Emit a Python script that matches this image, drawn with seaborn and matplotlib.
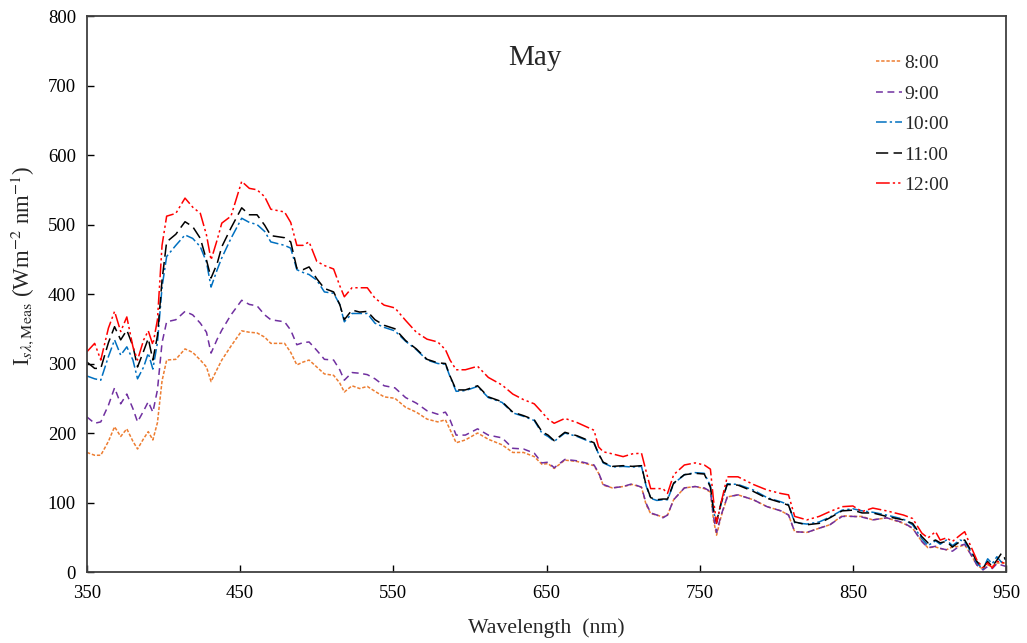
import matplotlib
matplotlib.use("Agg")
from matplotlib import pyplot as plt
import pandas as pd
import seaborn as sns

# wavelength grid (nm)
wavelength = [350, 355, 359, 364, 368, 372, 376, 380, 383, 387,
              390, 393, 396, 399, 402, 408, 414, 419, 424, 428,
              431, 435, 438, 444, 451, 456, 461, 466, 470, 479,
              483, 487, 491, 495, 500, 505, 511, 515, 518, 523,
              528, 533, 538, 544, 551, 558, 565, 572, 579, 584,
              587, 591, 597, 605, 612, 621, 628, 635, 642, 647,
              651, 655, 662, 670, 681, 684, 687, 693, 700, 706,
              712, 715, 718, 722, 726, 729, 733, 740, 747, 753,
              757, 759, 761, 764, 768, 775, 785, 794, 803, 808,
              812, 820, 828, 835, 843, 850, 856, 863, 872, 883,
              889, 895, 899, 904, 907, 911, 915, 920, 923, 926,
              931, 935, 938, 941, 944, 947, 950]

h8 = [172, 168, 168, 188, 209, 195, 206, 188, 177, 192,
      202, 190, 215, 275, 305, 306, 321, 316, 305, 295,
      274, 292, 305, 325, 347, 345, 344, 338, 329, 329,
      316, 298, 302, 305, 295, 285, 283, 272, 259, 268,
      264, 267, 260, 252, 250, 237, 230, 220, 216, 219,
      205, 186, 190, 200, 191, 183, 172, 172, 166, 155,
      156, 149, 161, 159, 153, 142, 125, 121, 123, 126,
      122, 97, 84, 82, 79, 82, 104, 121, 123, 120,
      115, 75, 53, 80, 108, 111, 104, 94, 88, 82,
      58, 57, 63, 68, 81, 80, 80, 75, 78, 70,
      63, 44, 35, 36, 34, 32, 36, 37, 39, 29,
      10, 4, 10, 8, 13, 13, 13]

h9 = [223, 214, 216, 240, 265, 242, 256, 235, 216, 232,
      245, 230, 262, 330, 360, 363, 375, 370, 358, 345,
      315, 335, 348, 370, 391, 385, 383, 370, 363, 360,
      348, 327, 330, 331, 319, 306, 305, 291, 276, 287,
      286, 284, 278, 268, 265, 251, 243, 232, 227, 230,
      219, 197, 197, 206, 197, 193, 178, 177, 171, 157,
      158, 150, 162, 160, 154, 143, 126, 121, 123, 127,
      122, 99, 85, 82, 78, 82, 104, 121, 123, 121,
      116, 80, 57, 82, 108, 111, 104, 94, 88, 82,
      58, 57, 63, 68, 80, 80, 79, 75, 78, 71,
      63, 44, 35, 37, 34, 32, 30, 38, 40, 29,
      10, 3, 8, 5, 12, 10, 8]

h10 = [282, 278, 276, 310, 334, 312, 324, 305, 278, 295,
       315, 292, 330, 410, 454, 470, 485, 480, 468, 446,
       410, 435, 452, 480, 509, 503, 500, 490, 475, 470,
       466, 435, 431, 428, 420, 403, 401, 385, 360, 372,
       372, 372, 358, 352, 347, 332, 320, 305, 300, 299,
       281, 260, 261, 267, 251, 244, 229, 224, 218, 200,
       195, 188, 200, 195, 185, 170, 157, 151, 152, 151,
       152, 124, 106, 103, 104, 104, 127, 140, 143, 142,
       124, 88, 70, 98, 127, 126, 118, 107, 101, 97,
       71, 69, 72, 79, 89, 91, 88, 86, 82, 76,
       68, 48, 38, 45, 40, 46, 38, 46, 44, 33,
       13, 4, 19, 12, 22, 14, 20]

h11 = [302, 293, 293, 330, 353, 334, 348, 325, 295, 318,
       336, 305, 340, 420, 475, 486, 504, 497, 480, 449,
       423, 444, 468, 495, 524, 514, 514, 499, 484, 481,
       475, 437, 435, 439, 422, 408, 403, 385, 363, 377,
       374, 375, 363, 355, 350, 333, 321, 306, 301, 300,
       282, 262, 262, 268, 252, 245, 230, 225, 219, 202,
       197, 189, 201, 196, 186, 170, 158, 152, 153, 152,
       153, 125, 107, 104, 105, 105, 128, 140, 142, 141,
       122, 90, 72, 100, 126, 125, 116, 106, 100, 96,
       72, 68, 70, 78, 88, 89, 85, 85, 80, 75,
       70, 51, 42, 46, 42, 44, 36, 44, 46, 35,
       15, 6, 15, 8, 17, 27, 17]

h12 = [317, 329, 305, 351, 375, 346, 367, 324, 305, 334,
       347, 327, 363, 470, 512, 516, 538, 525, 516, 485,
       449, 478, 502, 512, 562, 552, 550, 540, 522, 518,
       503, 470, 470, 475, 447, 441, 436, 412, 396, 409,
       409, 409, 394, 384, 380, 362, 345, 335, 331, 320,
       305, 291, 291, 296, 280, 269, 256, 248, 242, 230,
       220, 214, 221, 215, 204, 180, 173, 170, 166, 170,
       171, 145, 120, 120, 120, 113, 140, 154, 157, 154,
       148, 104, 70, 100, 137, 137, 126, 118, 113, 111,
       80, 75, 80, 87, 94, 95, 87, 92, 88, 82,
       77, 56, 49, 58, 46, 49, 44, 53, 58, 42,
       17, 6, 13, 6, 15, 15, 10]

times = ["8:00", "9:00", "10:00", "11:00", "12:00"]
series = [h8, h9, h10, h11, h12]

frames = []
for t, vals in zip(times, series):
    frames.append(pd.DataFrame({"wl": wavelength, "val": vals, "time": t}))
df = pd.concat(frames, ignore_index=True)

colors = {"8:00": "#ED7D31", "9:00": "#7030A0", "10:00": "#0070C0",
          "11:00": "#000000", "12:00": "#FF0000"}
dashes = {"8:00": (2.2, 1.2), "9:00": (4.5, 3), "10:00": (7, 2, 1.5, 2),
          "11:00": (8, 3.5), "12:00": (9, 2, 1.5, 2, 1.5, 2)}

sns.set_style("white")
plt.rcParams["font.family"] = ["Liberation Serif", "DejaVu Serif"]
plt.rcParams["mathtext.fontset"] = "stix"

fig = plt.figure(figsize=(10.27, 6.43), dpi=100)
ax = fig.add_axes([0.0847, 0.1104, 0.8949, 0.8647])
sns.lineplot(data=df, x="wl", y="val", hue="time", style="time",
             palette=colors, dashes=dashes, linewidth=1.1, ax=ax)

ax.set_xlim(350, 950)
ax.set_ylim(0, 800)
ax.set_xticks(range(350, 951, 100))
ax.set_yticks(range(0, 801, 100))
ax.tick_params(direction="in", length=5, width=1, labelsize=13.5,
               colors="black", bottom=True, left=True)
ax.tick_params(axis="x", pad=9)
ax.tick_params(axis="y", pad=8)
for sp in ax.spines.values():
    sp.set_color("#404040")
    sp.set_linewidth(1.3)

ax.set_xlabel("Wavelength  (nm)", fontsize=15.7, labelpad=12)
ax.set_ylabel(r"I$_{s\lambda,\mathrm{Meas}}$ (Wm$^{-2}$ nm$^{-1}$)",
              fontsize=16.5)
ax.yaxis.set_label_coords(-0.056, 0.55)
ax.text(0.4875, 0.925, "May", transform=ax.transAxes, fontsize=21,
        ha="center", va="center")

handles, labels = ax.get_legend_handles_labels()
ax.legend(handles, labels, loc="upper left", bbox_to_anchor=(0.84, 0.962),
          frameon=False, fontsize=14, handlelength=1.3, handletextpad=0.15,
          labelspacing=0.66)

fig.savefig("out.png", dpi=100)
